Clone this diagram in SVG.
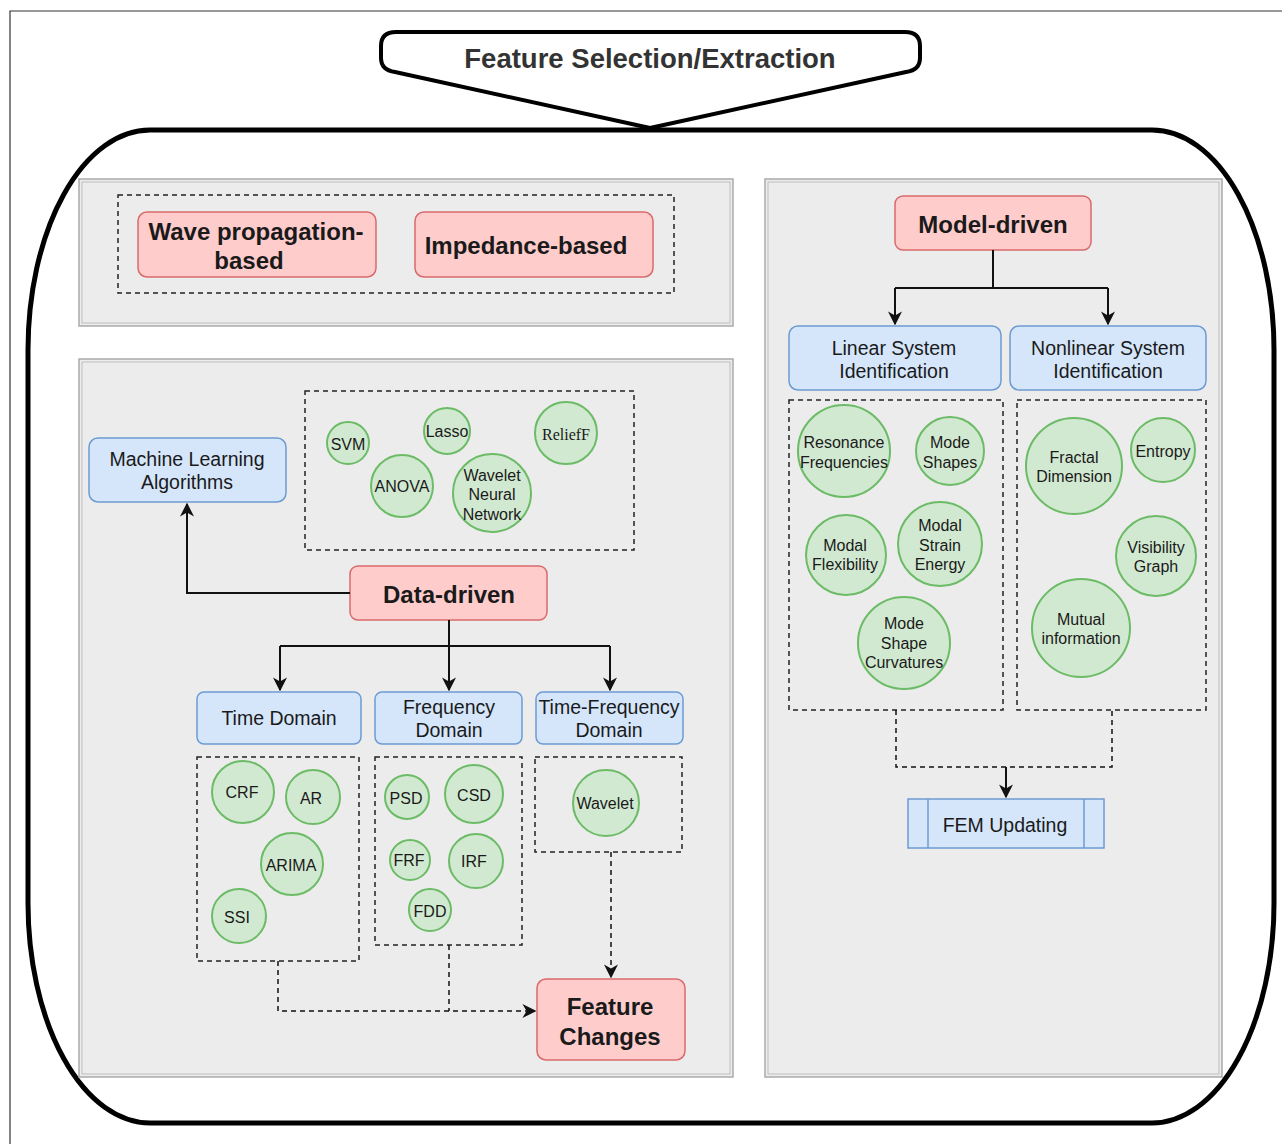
<svg xmlns="http://www.w3.org/2000/svg" width="1282" height="1144" viewBox="0 0 1282 1144">
<defs>
<style>
text{font-family:"Liberation Sans",Arial,sans-serif;fill:#1a1a1a;text-anchor:middle;dominant-baseline:central}
.panel{fill:#ececec;stroke:#aaaaaa;stroke-width:1.5}
.pin{fill:none;stroke:#bdbdbd;stroke-width:1}
.red{fill:#ffcccc;stroke:#d9696b;stroke-width:1.5}
.blue{fill:#d5e6fb;stroke:#6c9bd2;stroke-width:1.5}
.grn{fill:#d2e9d1;stroke:#6cbb66;stroke-width:2}
.dash{fill:none;stroke:#222;stroke-width:1.5;stroke-dasharray:5 4}
.bold{font-weight:bold;font-size:24px}
.t18{font-size:19.5px}
.t16{font-size:16px}
.con{fill:none;stroke:#111;stroke-width:2}
.dcon{fill:none;stroke:#111;stroke-width:1.5;stroke-dasharray:5 4}
</style>
<marker id="ah2" viewBox="0 0 10 10" refX="9" refY="5" markerWidth="14" markerHeight="14" markerUnits="userSpaceOnUse" orient="auto">
<path d="M0,0 L10,5 L0,10 L3,5 Z" fill="#111"/>
</marker>
</defs>
<rect width="1282" height="1144" fill="#ffffff"/>
<path d="M10,1144 V11 H1282" fill="none" stroke="#333" stroke-width="1.2"/>

<g id="frame">
<path d="M150,130 H1152 A122 220 0 0 1 1274 350 V903 A122 220 0 0 1 1152 1123 H150 A122 220 0 0 1 28 903 V350 A122 220 0 0 1 150 130 Z" fill="#ffffff" stroke="#000" stroke-width="5"/>
</g>
<g id="title">
<path d="M396,32 H905 Q920,32 920,46 V58 Q920,70 906,72 L650,128 L395,72 Q381,70 381,58 V46 Q381,32 396,32 Z" fill="#ffffff" stroke="#000" stroke-width="4" stroke-linejoin="round"/>
<text x="650" y="58" style="font-weight:bold;font-size:27.5px;fill:#333">Feature Selection/Extraction</text>
</g>

<g id="panel-top">
<rect class="panel" x="79" y="179" width="654" height="147"/>
<rect class="pin" x="82" y="182" width="648" height="141"/>
<rect class="dash" x="118" y="195" width="556" height="98"/>
</g>
<g id="panel-left">
<rect class="panel" x="79" y="359" width="654" height="718"/>
<rect class="pin" x="82" y="362" width="648" height="712"/>
</g>
<g id="panel-right">
<rect class="panel" x="765" y="179" width="457" height="898"/>
<rect class="pin" x="768" y="182" width="451" height="892"/>
</g>

<g id="wave">
<rect class="red" x="138" y="212" width="238" height="65" rx="9"/>
<text class="bold" x="256" y="231">Wave propagation-</text>
<text class="bold" x="249" y="260">based</text>
</g>
<g id="impedance">
<rect class="red" x="415" y="212" width="238" height="65" rx="9"/>
<text class="bold" x="526" y="245">Impedance-based</text>
</g>

<g id="ml-group">
<rect class="dash" x="305" y="391" width="329" height="159"/>
</g>
<g id="svm"><circle class="grn" cx="348" cy="443" r="21"/><text class="t16" x="348" y="444">SVM</text></g>
<g id="lasso"><circle class="grn" cx="447" cy="431" r="23"/><text class="t16" x="447" y="431">Lasso</text></g>
<g id="relief"><circle class="grn" cx="566" cy="433" r="31"/><text x="566" y="434" style="font-family:'Liberation Serif',serif;font-size:16px">ReliefF</text></g>
<g id="anova"><circle class="grn" cx="402" cy="486" r="31"/><text class="t16" x="402" y="486">ANOVA</text></g>
<g id="wnn"><circle class="grn" cx="492" cy="493" r="39"/><text class="t16" x="492" y="475">Wavelet</text><text class="t16" x="492" y="494">Neural</text><text class="t16" x="492" y="514">Network</text></g>

<g id="ml">
<rect class="blue" x="89" y="438" width="197" height="64" rx="9"/>
<text class="t18" x="187" y="459">Machine Learning</text>
<text class="t18" x="187" y="482">Algorithms</text>
</g>
<g id="data-driven">
<rect class="red" x="350" y="566" width="197" height="54" rx="8"/>
<text class="bold" x="449" y="594">Data-driven</text>
</g>

<g id="time">
<rect class="blue" x="197" y="692" width="164" height="52" rx="7"/>
<text class="t18" x="279" y="718">Time Domain</text>
</g>
<g id="freq">
<rect class="blue" x="375" y="692" width="147" height="52" rx="7"/>
<text class="t18" x="449" y="707">Frequency</text>
<text class="t18" x="449" y="730">Domain</text>
</g>
<g id="tf">
<rect class="blue" x="536" y="692" width="147" height="52" rx="7"/>
<text class="t18" x="609" y="707">Time-Frequency</text>
<text class="t18" x="609" y="730">Domain</text>
</g>

<g id="time-group"><rect class="dash" x="197" y="757" width="162" height="204"/></g>
<g id="crf"><circle class="grn" cx="243" cy="792" r="31"/><text class="t16" x="242" y="792">CRF</text></g>
<g id="ar"><circle class="grn" cx="313" cy="797" r="27"/><text class="t16" x="311" y="798">AR</text></g>
<g id="arima"><circle class="grn" cx="292" cy="864" r="31"/><text class="t16" x="291" y="865">ARIMA</text></g>
<g id="ssi"><circle class="grn" cx="239" cy="916" r="27"/><text class="t16" x="237" y="917">SSI</text></g>

<g id="freq-group"><rect class="dash" x="375" y="757" width="147" height="188"/></g>
<g id="psd"><circle class="grn" cx="407" cy="797" r="22"/><text class="t16" x="406" y="798">PSD</text></g>
<g id="csd"><circle class="grn" cx="474" cy="794" r="29"/><text class="t16" x="474" y="795">CSD</text></g>
<g id="frf"><circle class="grn" cx="410" cy="860" r="20"/><text class="t16" x="409" y="860">FRF</text></g>
<g id="irf"><circle class="grn" cx="476" cy="861" r="27"/><text class="t16" x="474" y="861">IRF</text></g>
<g id="fdd"><circle class="grn" cx="430" cy="910" r="21"/><text class="t16" x="430" y="911">FDD</text></g>

<g id="tf-group"><rect class="dash" x="535" y="757" width="147" height="95"/></g>
<g id="wavelet"><circle class="grn" cx="606" cy="803" r="33"/><text class="t16" x="605" y="803">Wavelet</text></g>

<g id="feature-changes">
<rect class="red" x="537" y="979" width="148" height="81" rx="9"/>
<text class="bold" x="610" y="1006">Feature</text>
<text class="bold" x="610" y="1036">Changes</text>
</g>

<g id="model-driven">
<rect class="red" x="895" y="196" width="196" height="54" rx="8"/>
<text class="bold" x="993" y="224">Model-driven</text>
</g>
<g id="linear">
<rect class="blue" x="789" y="326" width="212" height="64" rx="9"/>
<text class="t18" x="894" y="348">Linear System</text>
<text class="t18" x="894" y="371">Identification</text>
</g>
<g id="nonlinear">
<rect class="blue" x="1010" y="326" width="196" height="64" rx="9"/>
<text class="t18" x="1108" y="348">Nonlinear System</text>
<text class="t18" x="1108" y="371">Identification</text>
</g>

<g id="linear-group"><rect class="dash" x="789" y="400" width="214" height="310"/></g>
<g id="resonance"><circle class="grn" cx="844" cy="451" r="46"/><text class="t16" x="844" y="442">Resonance</text><text class="t16" x="844" y="462">Frequencies</text></g>
<g id="mode-shapes"><circle class="grn" cx="950" cy="451" r="34"/><text class="t16" x="950" y="442">Mode</text><text class="t16" x="950" y="462">Shapes</text></g>
<g id="flex"><circle class="grn" cx="846" cy="555" r="40"/><text class="t16" x="845" y="545">Modal</text><text class="t16" x="845" y="564">Flexibility</text></g>
<g id="strain"><circle class="grn" cx="940" cy="544" r="42"/><text class="t16" x="940" y="525">Modal</text><text class="t16" x="940" y="545">Strain</text><text class="t16" x="940" y="564">Energy</text></g>
<g id="curv"><circle class="grn" cx="904" cy="643" r="46"/><text class="t16" x="904" y="623">Mode</text><text class="t16" x="904" y="643">Shape</text><text class="t16" x="904" y="662">Curvatures</text></g>

<g id="nonlinear-group"><rect class="dash" x="1017" y="400" width="189" height="310"/></g>
<g id="fractal"><circle class="grn" cx="1074" cy="466" r="48"/><text class="t16" x="1074" y="457">Fractal</text><text class="t16" x="1074" y="476">Dimension</text></g>
<g id="entropy"><circle class="grn" cx="1163" cy="450" r="32"/><text class="t16" x="1163" y="451">Entropy</text></g>
<g id="visibility"><circle class="grn" cx="1156" cy="556" r="40"/><text class="t16" x="1156" y="547">Visibility</text><text class="t16" x="1156" y="566">Graph</text></g>
<g id="mutual"><circle class="grn" cx="1081" cy="628" r="49"/><text class="t16" x="1081" y="619">Mutual</text><text class="t16" x="1081" y="638">information</text></g>

<g id="fem">
<rect class="blue" x="908" y="799" width="196" height="49"/>
<line x1="928" y1="799" x2="928" y2="848" stroke="#6c9bd2" stroke-width="1.5"/>
<line x1="1084" y1="799" x2="1084" y2="848" stroke="#6c9bd2" stroke-width="1.5"/>
<text class="t18" x="1005" y="825">FEM Updating</text>
</g>

<g id="connectors">
<path class="con" d="M350,593 H187 V504" marker-end="url(#ah2)"/>
<path class="con" d="M449,620 V646"/>
<path class="con" d="M280,646 H610"/>
<path class="con" d="M280,646 V690" marker-end="url(#ah2)"/>
<path class="con" d="M449,646 V690" marker-end="url(#ah2)"/>
<path class="con" d="M610,646 V690" marker-end="url(#ah2)"/>
<path class="dcon" d="M278,961 V1011 H535" marker-end="url(#ah2)"/>
<path class="dcon" d="M449,945 V1011"/>
<path class="dcon" d="M611,852 V977" marker-end="url(#ah2)"/>
<path class="con" d="M993,250 V288"/>
<path class="con" d="M895,288 H1108"/>
<path class="con" d="M895,288 V324" marker-end="url(#ah2)"/>
<path class="con" d="M1108,288 V324" marker-end="url(#ah2)"/>
<path class="dcon" d="M896,710 V767 H1112 V710"/>
<path class="con" d="M1006,767 V797" marker-end="url(#ah2)"/>
</g>
</svg>
